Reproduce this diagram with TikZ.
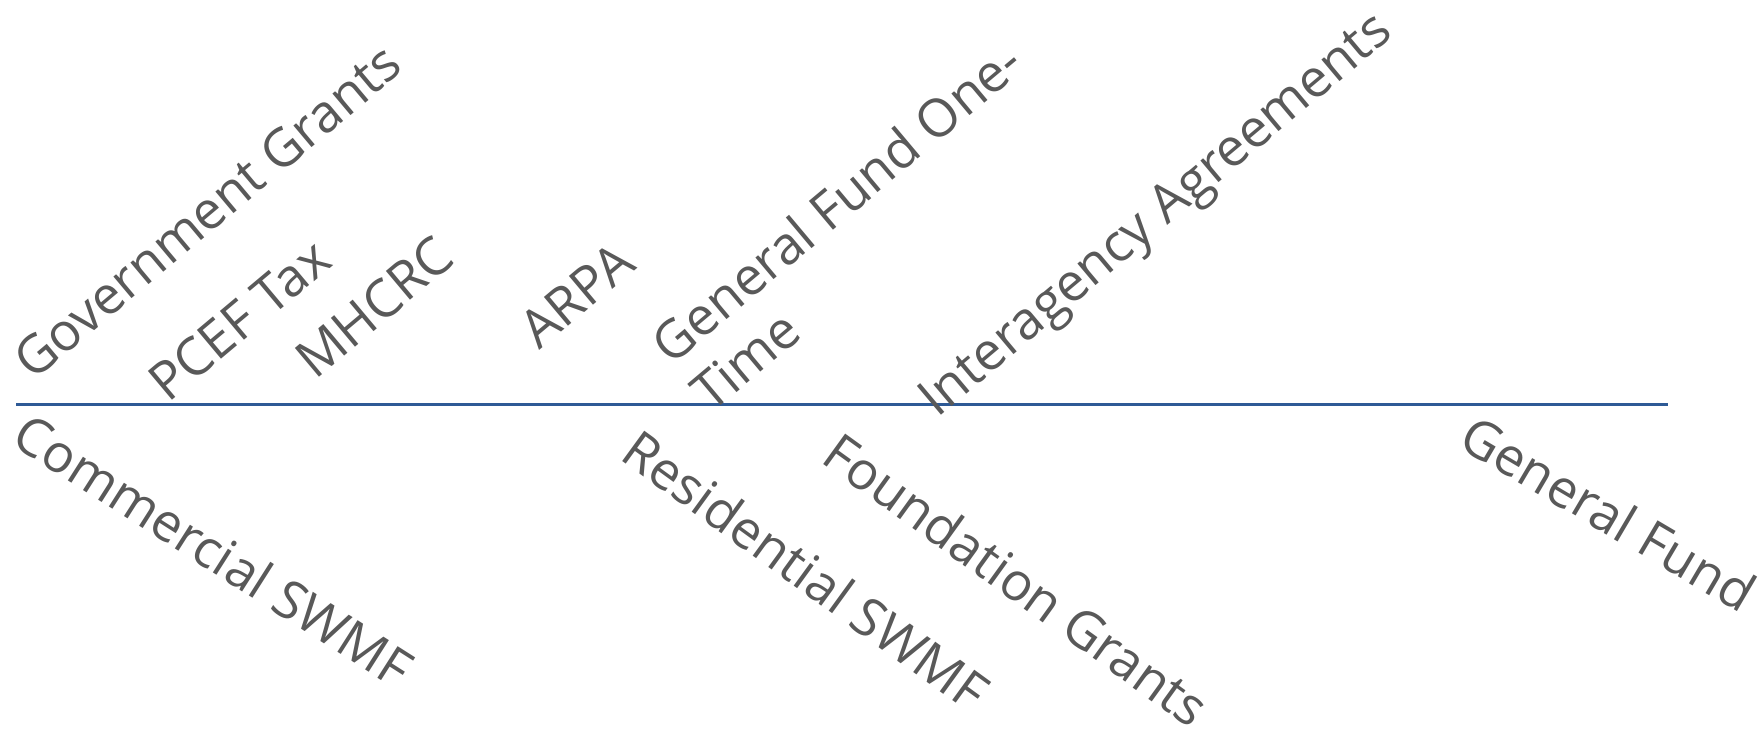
\documentclass[tikz,border=0pt]{standalone}
\usepackage{fontspec}
\setmainfont{Open Sans}
\definecolor{labelgray}{HTML}{595959}
\definecolor{axisblue}{HTML}{2E5A96}

\begin{document}
\begin{tikzpicture}
	[x=0.5pt,y=-0.5pt,
	 uplabel/.style={rotate=40,anchor=base west,inner sep=0pt,align=left,
	   text=labelgray,font=\fontsize{26.3}{31}\selectfont},
	 downlabel/.style={rotate=-#1,anchor=base west,inner sep=0pt,
	   text=labelgray,font=\fontsize{26.3}{31}\selectfont},
	 downlabel/.default=31]
\useasboundingbox (0,0) rectangle (1760,730);
% axis
\coordinate (axl) at (16,404.5);
\coordinate (axr) at (1668,404.5);
\draw[axisblue,line width=1.1pt] (axl) -- (axr);
% labels above the axis (two-line one is placed by its last line)
\node[uplabel] (govgr) at (33,382) {Government Grants};
\node[uplabel] (pcef) at (168,404) {PCEF Tax};
\node[uplabel] (mhcrc) at (315,381) {MHCRC};
\node[uplabel] (arpa) at (539,351) {ARPA};
\node[uplabel] (gfone) at (711,414) {General Fund One-\\Time};
\node[uplabel] (inter) at (937,419) {Interagency Agreements};
% labels below the axis
\node[downlabel=32.5] (comm) at (9,443) {Commercial SWMF};
\node[downlabel=36] (resid) at (618,458) {Residential SWMF};
\node[downlabel=35.8] (found) at (819,461) {Foundation Grants};
\node[downlabel=30.5] (genfd) at (1456,446) {General Fund};
\end{tikzpicture}
\end{document}
